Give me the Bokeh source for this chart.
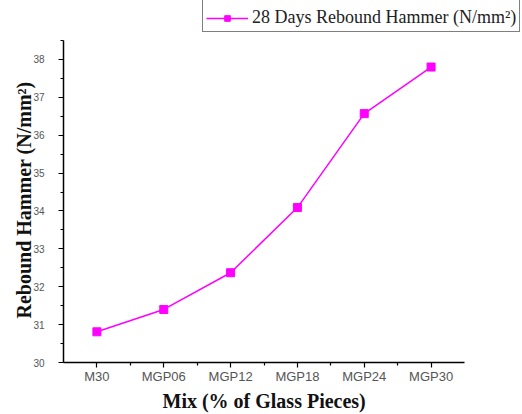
from bokeh.plotting import figure
from bokeh.models import (ColumnDataSource, FixedTicker, Range1d, Legend, LegendItem, Title)
from bokeh.embed import file_html
from bokeh.resources import INLINE

# Rebound hammer readings at 28 days for each mix
mixes = ["M30", "MGP06", "MGP12", "MGP18", "MGP24", "MGP30"]
rebound = [30.81, 31.40, 32.37, 34.09, 36.57, 37.80]
y_ticks = [30, 31, 32, 33, 34, 35, 36, 37, 38]
series_name = "28 Days Rebound Hammer (N/mm²)"
x_title = "Mix (% of Glass Pieces)"
y_title = "Rebound Hammer (N/mm²)"

MAGENTA = "#FF00FF"

# Axes are drawn only over the data span; the frame runs on to the top and
# right edges so the legend box can sit up in the corner.
X_SPAN = (-0.5, len(mixes) - 0.5)
Y_SPAN = (30, 38.5)
px_per_x = 401 / (X_SPAN[1] - X_SPAN[0])
px_per_y = 322 / (Y_SPAN[1] - Y_SPAN[0])

src = ColumnDataSource(dict(x=list(range(len(mixes))), y=rebound, mix=mixes))

p = figure(width=522, height=414, output_backend="svg", toolbar_location=None,
           x_range=Range1d(X_SPAN[0], X_SPAN[1] + 58 / px_per_x),
           y_range=Range1d(Y_SPAN[0], Y_SPAN[1] + 40 / px_per_y))
p.min_border_left = 63
p.min_border_right = 0
p.min_border_top = 0
p.min_border_bottom = 52
p.outline_line_color = None
p.grid.visible = False
p.background_fill_color = "white"
p.border_fill_color = "white"

line = p.line("x", "y", source=src, line_color=MAGENTA, line_width=1.5)
pts = p.scatter("x", "y", source=src, marker="square", size=8,
                fill_color=MAGENTA, line_color=MAGENTA)

# x axis: one labelled tick per mix, minor ticks in between
xa = p.xaxis[0]
xa.bounds = X_SPAN
xa.ticker = FixedTicker(ticks=list(range(len(mixes))),
                        minor_ticks=[i + 0.5 for i in range(len(mixes) - 1)])
xa.major_label_overrides = {i: m for i, m in enumerate(mixes)}

ya = p.yaxis[0]
ya.bounds = Y_SPAN
ya.ticker = FixedTicker(ticks=y_ticks, minor_ticks=[t + 0.5 for t in y_ticks])

for ax in (xa, ya):
    ax.axis_line_color = "black"
    ax.axis_line_width = 1.5
    ax.major_tick_line_color = "black"
    ax.minor_tick_line_color = "black"
    ax.major_tick_line_width = 1.2
    ax.minor_tick_line_width = 1.2
    ax.major_tick_out = 5
    ax.major_tick_in = 0
    ax.minor_tick_out = 3
    ax.minor_tick_in = 0
    ax.major_label_text_font = "Liberation Sans"
    ax.major_label_text_color = "#555555"

xa.major_label_text_font_size = "13px"
xa.major_label_standoff = 1
ya.major_label_text_font_size = "10px"
ya.major_label_standoff = 14

# Axis titles, centred on the axis spans rather than on the whole frame
title_style = dict(text_font="Liberation Serif", text_font_style="bold",
                   text_font_size="20px", text_color="#111111", align="left")
p.add_layout(Title(text=x_title, offset=99, standoff=3, **title_style), "below")
p.add_layout(Title(text=y_title, offset=44, standoff=-8, **title_style), "left")

legend = Legend(items=[LegendItem(label=series_name, renderers=[line, pts])],
                location=(139, 330))
legend.title = " "
legend.title_text_font_size = "18px"
legend.title_standoff = 4
legend.label_text_font = "Liberation Serif"
legend.label_text_font_size = "18px"
legend.label_text_color = "#222222"
legend.border_line_color = "black"
legend.border_line_width = 1.5
legend.glyph_width = 42
legend.glyph_height = 14
legend.label_height = 14
legend.padding = 3
legend.margin = 0
legend.label_standoff = 4
legend.background_fill_alpha = 1
p.add_layout(legend, "center")

open("out.html", "w").write(file_html(p, INLINE))
